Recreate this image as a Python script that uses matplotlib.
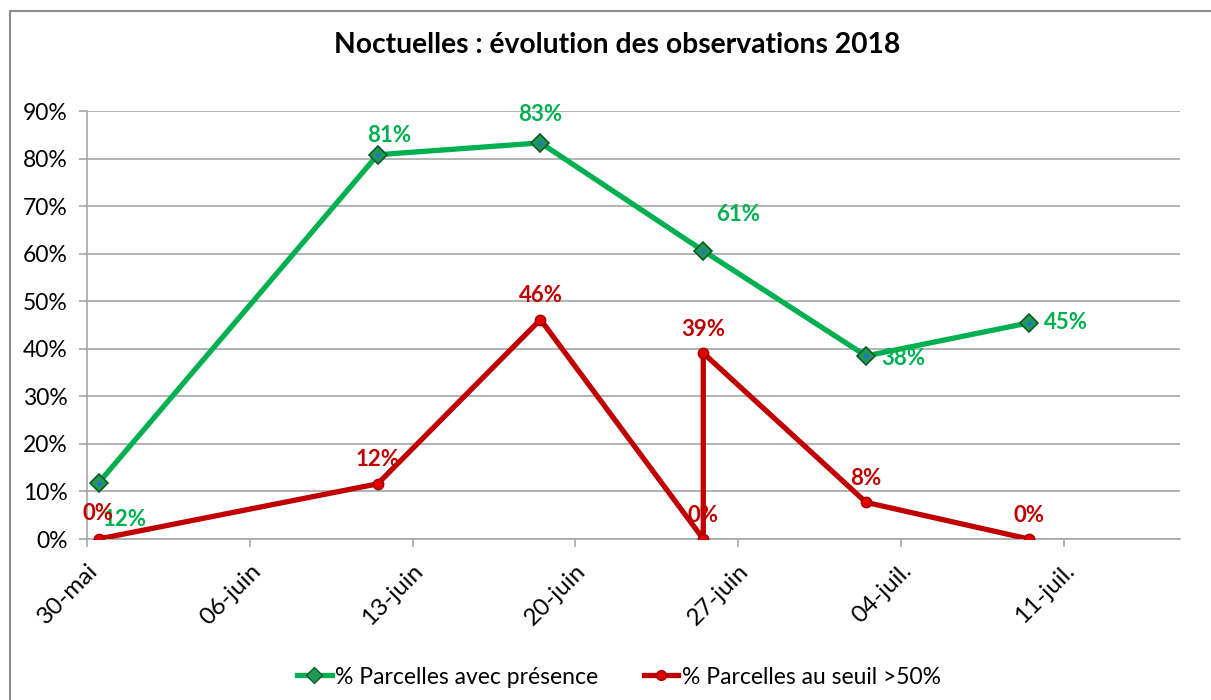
import matplotlib
matplotlib.use("Agg")
import matplotlib.pyplot as plt
import matplotlib.dates as mdates
from matplotlib.lines import Line2D
from matplotlib.patches import Rectangle
import numpy as np
import datetime as dt

# ---- data ----
title = "Noctuelles : évolution des observations 2018"
green_name = "% Parcelles avec présence"
red_name = "% Parcelles au seuil >50%"

green_dates = ["2018-05-30", "2018-06-11", "2018-06-18", "2018-06-25", "2018-07-02", "2018-07-09"]
green_vals = [0.118, 0.808, 0.833, 0.606, 0.385, 0.4545]

red_dates = ["2018-05-30", "2018-06-11", "2018-06-18", "2018-06-25", "2018-06-25", "2018-07-02", "2018-07-09"]
red_vals = [0.0, 0.116, 0.4615, 0.0, 0.391, 0.077, 0.0]

tick_dates = ["2018-05-30", "2018-06-06", "2018-06-13", "2018-06-20", "2018-06-27", "2018-07-04", "2018-07-11"]
tick_labels = ["30-mai", "06-juin", "13-juin", "20-juin", "27-juin", "04-juil.", "11-juil."]
y_ticks = [0, 0.1, 0.2, 0.3, 0.4, 0.5, 0.6, 0.7, 0.8, 0.9]

# label offsets (pixels: dx, dy up)
green_off = [(26, -37), (11, 19), (0, 28), (35, 36), (37, -3), (37, 0)]
red_off = [(-1, 25), (0, 24), (0, 24), (0, 24), (0, 24), (0, 24), (0, 24)]

plt.rcParams['font.family'] = ['Lato', 'DejaVu Sans']

W, H = 1211, 700
fig = plt.figure(figsize=(W / 100, H / 100), dpi=100)
fig.patch.set_facecolor('white')

# chart border
fig.add_artist(Rectangle((10 / W, -0.05), 1.1, 1 - 11 / H + 0.05, transform=fig.transFigure,
                         fill=False, edgecolor='#8c8c8c', lw=1.5))

ax = fig.add_axes([87 / W, 1 - 539 / H, (1180 - 87) / W, (539 - 111) / H])

def to_num(ds):
    return np.array([mdates.date2num(dt.datetime.strptime(d, "%Y-%m-%d")) for d in ds]) + 0.5

gx = to_num(green_dates)
rx = to_num(red_dates)
tx = to_num(tick_dates) - 0.5

green_c = '#00b050'
red_c = '#c00000'

ax.plot(gx, green_vals, color=green_c, lw=3.8, zorder=3, solid_capstyle='round')
ax.plot(gx, green_vals, ls='none', marker='D', ms=9, mfc='#1e9a55', mec='#0c5a2c', mew=1.2, zorder=4)
ax.plot(gx, green_vals, ls='none', marker='D', ms=3, mfc='#2a6fd0', mec='none', zorder=5)

ax.plot(rx, red_vals, color=red_c, lw=3.8, zorder=3, solid_capstyle='round')
ax.plot(rx, red_vals, ls='none', marker='o', ms=7.5, mfc='#e00000', mec='#a00000', mew=1, zorder=4)

for x, v, (dx, dy) in zip(gx, green_vals, green_off):
    ax.annotate(f"{v:.0%}", (x, v), xytext=(dx * 0.72, dy * 0.72), textcoords='offset points',
                ha='center', va='center', color=green_c, fontsize=16, fontweight='bold', zorder=6)
for x, v, (dx, dy) in zip(rx, red_vals, red_off):
    ax.annotate(f"{v:.0%}", (x, v), xytext=(dx * 0.72, dy * 0.72), textcoords='offset points',
                ha='center', va='center', color=red_c, fontsize=16, fontweight='bold', zorder=6)

ax.set_xlim(tx[0], tx[0] + 47)
ax.set_ylim(0, 0.9)
ax.set_xticks(tx)
ax.set_xticklabels(tick_labels, rotation=45, ha='right', rotation_mode='anchor', fontsize=17.5)
ax.set_yticks(y_ticks)
ax.set_yticklabels([f"{v:.0%}" for v in y_ticks], fontsize=16.5)
ax.grid(axis='y', color='#a6a6a6', lw=1.2)
ax.set_axisbelow(True)
for s in ['top', 'right']:
    ax.spines[s].set_visible(False)
for s in ['left', 'bottom']:
    ax.spines[s].set_color('#a6a6a6')
    ax.spines[s].set_linewidth(1.2)
ax.tick_params(axis='both', color='#a6a6a6', width=1.2, length=6, direction='out')
ax.tick_params(axis='y', pad=8)
ax.tick_params(axis='x', pad=9)

fig.text(617 / W, 1 - 45 / H, title, ha='center', va='center', fontsize=20.3, fontweight='bold')

h_green = Line2D([], [], color=green_c, lw=3.8, marker='D', ms=8, mfc='#1e9a55', mec='#0c5a2c')
h_red = Line2D([], [], color=red_c, lw=3.8, marker='o', ms=7, mfc='#e00000', mec='#a00000')
fig.legend([h_green, h_red], [green_name, red_name], loc='center', bbox_to_anchor=(619 / W, 1 - 677 / H),
           ncol=2, frameon=False, fontsize=16.5, handlelength=1.5, handletextpad=0.15, columnspacing=2.0)

fig.savefig("out.png", dpi=100, facecolor='white')
